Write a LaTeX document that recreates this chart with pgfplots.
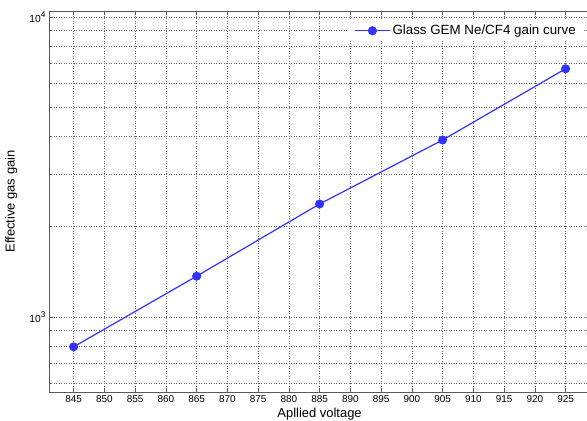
\documentclass[border=0pt]{standalone}
\usepackage{fontspec}
\setmainfont{Liberation Sans}
\usepackage{pgfplots}
\pgfplotsset{compat=1.18}

\definecolor{gainblue}{RGB}{51,51,255}
\definecolor{framegray}{RGB}{90,90,90}

\newcommand{\tenpow}[1]{10\raisebox{4.7bp}{\fontsize{8.4}{9}\selectfont #1}}

\begin{document}
\begin{tikzpicture}
\begin{axis}[
    name=ax,
    scale only axis,
    width=541.2bp, height=381bp,
    xmin=841, xmax=929,
    ymode=log, ymin=562, ymax=10471,
    xtick={845,850,...,925},
    ytick={1000,10000},
    yticklabels={\tenpow{3},\tenpow{4}},
    minor ytick={600,700,800,900,2000,3000,4000,5000,6000,7000,8000,9000},
    grid=both,
    grid style={gray!80!black, line width=0.55bp, dash pattern=on 1bp off 1.5bp},
    minor grid style={gray!80!black, line width=0.55bp, dash pattern=on 1bp off 1.5bp},
    axis x line*=box, axis y line*=left,
    axis line style={framegray, line width=0.8bp},
    tick style={framegray, line width=0.6bp},
    tick align=inside,
    major tick length=4bp, minor tick length=2.5bp,
    xtick pos=both,
    /pgf/number format/assume math mode=true,
    /pgf/number format/1000 sep={},
    xticklabel style={font=\fontsize{10}{12}\selectfont},
    yticklabel style={font=\fontsize{10.3}{12}\selectfont},
    xlabel={Apllied voltage},
    ylabel={Effective gas gain},
    label style={font=\fontsize{13}{15}\selectfont},
    xlabel style={at={(axis description cs:0.5,0)}, anchor=base, yshift=-25.7bp},
    ylabel style={at={(axis description cs:-0.0636,0.5)}, anchor=base},
    legend style={at={(axis description cs:0.5527,0.9764)}, anchor=north west,
        draw=none, fill=white, inner xsep=6bp, inner ysep=3bp,
        font=\fontsize{13.4}{15}\selectfont},
    legend image code/.code={%
        \draw[#1, mark repeat=2, mark phase=2] plot coordinates {(0bp,0bp) (17.5bp,0bp) (35bp,0bp)};},
]
\addplot[gainblue, line width=1.2bp, mark=*, mark size=3.9bp, mark options={fill=gainblue, draw=gainblue}]
coordinates {
    (845,795)
    (865,1367)
    (885,2380)
    (905,3890)
    (925,6720)
};
\addlegendentry{Glass GEM Ne/CF4 gain curve}
\end{axis}
\pgfresetboundingbox
\path[use as bounding box] ([xshift=-49bp,yshift=-29bp]ax.south west) rectangle ([xshift=538bp,yshift=11bp]ax.north west);
\end{tikzpicture}
\end{document}
